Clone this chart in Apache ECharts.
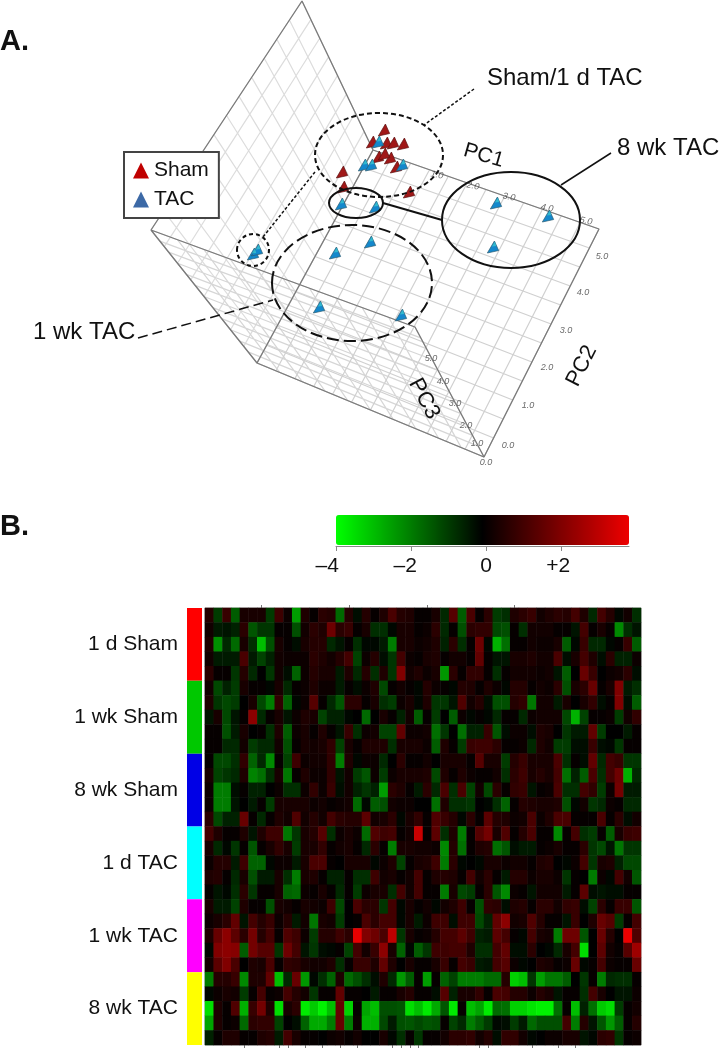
<!DOCTYPE html>
<html>
<head>
<meta charset="utf-8">
<style>
  html, body { margin: 0; padding: 0; background: #fff; }
  /* the source figure is a soft upscaled scan */
  #main { width: 722px; height: 1050px; filter: blur(0.6px); }
</style>
<script src="https://cdn.jsdelivr.net/npm/echarts@6/dist/echarts.min.js"></script>
</head>
<body>
<div id="main"></div>
<script>
const shamX = [384, 372, 386, 393, 403, 390, 378, 384, 396, 409, 342, 343]
const shamY = [130, 142, 143, 143, 144, 158, 157, 154, 167, 192, 172, 187]
const tacX = [378, 364, 371, 402, 375, 341, 496, 548, 493, 370, 253, 257, 335, 319, 401]
const tacY = [142, 165, 165, 165, 207, 204, 203, 216, 247, 242, 254, 250, 253, 307, 315]

const pc1Ticks = ['1.0', '2.0', '3.0', '4.0', '5.0']
const pc2Ticks = ['0.0', '1.0', '2.0', '3.0', '4.0', '5.0']
const pc3Ticks = ['0.0', '1.0', '2.0', '3.0', '4.0', '5.0']

// Panel B
const groupNames = ['1 d Sham', '1 wk Sham', '8 wk Sham', '1 d TAC', '1 wk TAC', '8 wk TAC']
const colorTicks = [-4, -2, 0, 2]
const colorMin = -4
const colorMax = 3.81

const oneDayShamRows = [
  [.5,-1,.8,-1.5,.3,.3,.3,-1,.9,.1,-2.5,.4,0,.6,.5,-1.7,.5,-.3,.5,0,.4,1.1,.5,.4,0,0,.3,-.7,1.3,-1.5,1.1,0,.6,-1,-.8,.4,.6,.8,.2,.4,.6,.5,1,.4,-.7,1,.5,-.2,.2,-.8],
  [.2,-.5,-.4,-.6,.6,-1.4,-.9,-.9,0,0,-1.3,.2,.6,.4,1.7,.6,.8,0,.3,-.8,-.8,-.2,.3,.3,0,.1,.6,-.7,0,-1.3,.6,.7,.7,-1.2,-1.3,0,-.8,.2,.2,.2,0,0,-.4,1,0,.3,0,-2.2,-.8,-.4],
  [.4,-2.3,-.7,-1.7,.3,-.8,-3,-1.3,.3,0,-.3,.3,.5,.5,-.7,-.4,0,-.8,-.2,-.2,-.5,-2,.3,.3,.1,.2,.4,-.6,.6,-.8,0,1.7,-.2,-2.8,-1.8,0,0,.2,.1,.1,.3,-1.5,-.2,.8,-.7,-.7,-.2,0,.8,-1.5],
  [.2,-.5,-.5,-.5,1.1,-.5,-1.1,-.6,.2,.1,.1,.1,.6,.4,.2,.5,1,-1.1,.1,.5,-.3,-.9,1,.1,0,.3,.4,0,.2,.2,0,1.5,0,-.4,-.4,.3,.3,.4,.2,.2,1.1,-.3,.3,1,.4,-.3,.6,-.6,-.6,.1],
  [.6,0,0,-.9,.5,-.7,-.1,-.9,.2,-.3,-1.6,.1,.5,.3,.3,-.5,.4,-.7,.5,-.8,.4,-.9,2,.2,.4,.1,.3,-2.4,.6,0,.7,.7,0,-.8,0,.2,.2,.2,.1,.2,-.4,-1.5,-.1,1.6,.8,-.1,.1,.2,.6,-.3]
]
const oneWeekShamRows = [
  [.2,-1.2,-.6,-1,.3,0,0,-.2,.3,-.7,0,.1,.4,.1,.1,-.5,0,-.3,.1,.4,-1.2,0,.2,0,-.2,.5,.1,0,-.2,.5,.4,0,.4,.1,-.2,.5,.5,0,.2,.1,.6,-1.3,.3,.6,1.6,0,.3,2,-.5,-.8],
  [.4,-.9,-1.2,-1,-.1,.3,-1.2,-2,.7,-1.6,-.2,.1,1.3,0,-.7,-1.4,.6,.6,0,.3,-.8,-1,.1,.3,-.2,.4,-.9,-.9,-.4,1.2,.2,.5,-.3,-1.3,-1.3,.5,.7,-1.9,.2,.2,-.5,.3,-.1,.3,.7,-.3,0,2,-.3,-1.5],
  [-.4,.3,-1.2,-.4,0,2.2,-.7,0,.3,-.4,.1,.4,.3,-1.1,-.6,-.6,-.2,-.1,-1.7,-.1,.3,0,-.6,.2,-1.5,0,-1,-.1,-1.5,.1,-.2,0,-.2,-.7,0,0,-.7,.1,.2,.2,.2,-1.2,-2.8,-1.1,0,0,.1,-1,.2,.7],
  [0,0,-1.3,-.5,.3,-.1,0,-.8,.4,-1.5,.1,.3,0,.4,0,-.4,.8,-.8,.1,.2,-1.1,-1.1,1.5,.1,.1,.2,-1.8,-.9,-.1,-1.8,-.6,-.6,.8,-1.4,-.3,.1,.1,-.3,.4,.3,-.1,-.9,-.5,-.5,1.5,-1,-.1,-.1,-.5,0],
  [0,0,-.7,-.7,.2,-1,-.7,-.7,.2,-1.3,0,.3,.2,.3,.7,-1.1,.3,0,.4,.4,.4,-.8,.3,.3,.3,.1,-1.5,.4,0,-1,.8,.9,.9,.6,0,0,.1,-.7,.4,.2,-1,-1,-.3,-.3,.8,-.3,-.2,-.9,0,0]
]
const eightWeekShamRows = [
  [0,-1.2,-1.2,-.8,.7,-1.6,-.7,-2.2,0,-1.1,.9,.1,.2,.2,.7,-2,.4,-.2,.1,.1,-.7,-.1,.6,0,0,.2,-.1,.3,.3,.3,0,1.3,.3,.3,-1,.5,.8,.3,.3,.3,1.1,-.8,0,-.3,1.5,-.7,1,.8,-.9,-.9],
  [.3,-1.1,-.9,-.7,.4,-2.1,-1.8,-.8,.3,-1.9,0,.4,.1,.1,.7,-.4,.2,-1,-1.4,.1,-1,.1,.3,.3,.3,.4,-1.2,.4,0,.4,.1,0,0,.2,-.8,.6,.9,.3,.5,.3,1,-1.8,-.6,-1.5,1.1,-.8,1,1.7,-2.8,-.7],
  [.1,-2,-2,-.3,0,-.6,-.6,-.1,.1,-.8,-.8,.1,.7,.1,.8,-.3,.2,-.6,-.9,-.6,-2.5,.6,.4,0,-.5,.6,-.7,1.1,-.8,1.1,-1.1,.2,-1.2,.6,0,.7,.8,-.4,0,.1,1.1,-.8,-.8,1,.7,-1,.1,1.8,-.5,-.5],
  [.1,-2,-2,-.4,-.1,-.5,0,-1,.3,.3,.3,.3,.1,.2,0,.1,.2,-1.7,-.2,-1.5,-1.3,.2,.1,.1,-.1,-.1,-1.8,.4,-.8,-.8,-.9,-.1,-.2,-.8,-1.6,0,.5,.4,.3,.3,.4,-1.3,-.2,.2,-.9,-.7,.1,0,-.7,-.7],
  [.6,-1.2,-.6,-.6,1.6,0,-.7,0,.4,.2,1.2,.2,.5,.2,1,.6,.5,.5,1.4,.2,.3,.6,-.2,.3,.7,0,1.2,.8,.5,-.2,.6,0,1.4,.5,.4,.1,.2,1.1,.1,.4,1.1,1.1,0,0,0,1.1,0,.6,-.3,.2]
]
const oneDayTacRows = [
  [1,.4,0,0,.4,-.4,.4,.9,.9,-1.9,-.9,.3,.5,1.3,-.8,.1,.3,.1,-1.7,1.2,.9,1,0,.2,3.2,0,1.4,-.8,.4,-2,0,1.3,1.8,.3,1.2,0,.5,1.1,0,0,-2.2,0,1,-.8,-1,0,-1.5,.3,.8,.9],
  [.3,-.7,-.2,-.9,0,-1.4,0,.3,.7,.3,-1,.3,.3,.7,0,.2,.3,0,-.7,.6,0,-2,.3,.3,.2,.2,.1,-2.2,.5,-1.8,0,.4,.5,-1.8,-1.4,-.3,-.5,-.5,0,.1,.3,0,0,.6,-.9,-1.2,-.4,-1.9,-.9,-.9],
  [.1,.5,.5,-.5,.9,-1.6,-1.6,-.2,.1,.1,-.5,.3,1.1,1.1,0,-.1,.3,.3,.3,-.2,.1,.4,-1.1,0,.3,.4,.9,-2,.6,-.2,-.1,-.2,.3,.3,.1,.2,.2,0,.4,.5,-.1,-.2,.1,1,-.9,.3,.4,-.6,-1.2,-1.2],
  [.4,.5,0,-.7,.3,-1.3,-.5,-.5,.3,-.8,-2,.3,.4,0,-.6,-.6,0,-.8,-.8,.9,.2,.3,0,.2,1,0,.4,.5,.4,0,1,.2,.6,0,-.5,.5,.5,.1,.3,.3,.1,-.9,0,-.1,-2,.1,-.2,1,.2,-1.4],
  [0,-.4,-.2,-.8,.6,-.9,0,0,.3,-1.6,-1.7,.1,0,.3,0,-.7,0,-1,.1,.3,.3,-.8,1,.2,1,0,0,-2,.3,-1.2,-1,0,.6,-1.4,-2.2,.1,0,-.4,.2,.2,.2,-.5,0,1.4,-.3,-.4,-.3,-.3,0,0]
]
const oneWeekTacRows = [
  [.3,-.5,-.5,-1.1,.4,0,0,-1.3,.3,.2,0,.3,.2,.1,.9,-1.2,-.1,1.1,.6,.6,-.9,1,-.2,.3,0,.2,-.2,.2,.4,.9,0,-1.3,.7,.6,-.3,.4,.5,0,.6,.6,.2,.7,.8,-.3,-1.1,.6,0,.8,.8,-1.4],
  [.1,.3,.6,1.5,-.4,1,.5,.8,.1,.5,-.5,.2,-1.9,.3,.2,-1,-.1,0,1.1,.6,1,1,-.2,.3,-.5,.1,.9,.9,-.3,.9,.9,-1.2,-.6,1.5,2.2,.2,.3,1.2,.5,0,0,-.4,.8,-.1,.4,1.6,1.3,-1,0,1],
  [.4,1.6,2.2,1.4,.6,1.8,.5,1,0,1.2,.9,.1,-1,.5,.5,.9,.6,3.7,2,1.7,1.1,3,-.9,.3,0,.1,.5,1,1,1.4,.9,-.6,-.5,1.4,1,0,-.2,1,.3,.2,-2,1.7,1.7,-1.4,-.1,1.6,.5,-.1,3.8,1.2],
  [-.2,2,2.2,2.1,-1.5,1.8,1.3,1.3,-.9,1.7,1,-.4,-.9,-.3,-.2,0,-1.1,1,.2,.8,2.2,.3,-1.6,-.2,-1.5,-.9,.9,.9,1,1,.4,-.8,-.8,1,1.5,-.3,-.3,.6,-.1,-.2,-.7,.3,1,-3.5,-.1,1.4,.2,0,1.3,2.5],
  [.2,1.4,2,1.1,-.1,.4,.3,1.1,0,.7,.6,.3,.2,.2,.4,-.8,0,.8,.8,.4,1.5,.4,-.1,.3,0,0,.3,.8,0,1,.8,-.5,-.4,1,1.3,.1,-.2,-.1,.4,.3,0,.1,1.6,-.2,0,1,.1,0,0,1.6]
]
const eightWeekTacRows = [
  [-2,.5,.5,.8,-2.2,.4,.4,1.5,-3,-.7,1.6,-2.4,-.2,-.8,-1.6,.4,-1.7,-1.3,-.8,-.3,.4,-.7,-2.4,-1.5,0,-2.5,0,-1.6,-1.1,-2,-2,-2,-1.7,-1.7,.5,-3.3,-3,-.9,-2.5,-1.9,-1.9,-1.5,-.1,-.9,0,-2,-.7,-.8,-.8,0],
  [-.2,.1,.3,.2,-1,0,1,0,.1,1,.5,.2,-.9,0,0,1.5,0,0,-.1,-.5,0,0,.3,.5,0,0,-.3,1.3,-.6,.3,.3,.7,0,1.1,1,.5,.5,.1,.5,.3,-.4,0,0,-.8,1,.3,-.1,-.4,-.4,.1],
  [-3.5,.4,0,1.2,-2.8,.8,1.8,.4,-3.5,.3,.6,-3.7,-3.2,-3.8,-3,1.6,-3.3,0,-2.6,-3,-1.3,-1.3,-1.4,-3.5,-3,-3.7,-2.7,-1.4,-3.7,0,-3,-2.6,-3.7,-1.7,-1.8,-3.3,-3.3,-3.6,-3.8,-3.8,-1.8,0,-3,-.6,-1.8,-3.2,-3.5,-1,0,.2],
  [-2.6,.4,0,.1,-1.7,.6,.7,.7,-1.1,-.1,-.3,-1.6,-2.7,-2.7,-2,1.6,-2,.1,-2.8,-2.8,-1.2,-.5,-1.3,-1.4,-1.2,-1.4,-1.3,0,-1.1,-.7,-2,-1.5,-1,-.2,-.3,-1,-.5,-1.7,-1.3,-1.3,-1.3,1,-2,.5,-.4,-1.4,-2.4,-1.5,0,.5],
  [-.6,0,.4,.4,0,0,.4,.5,-.5,1,.3,0,0,-.1,.1,.2,0,.2,-.1,-.1,.3,-.2,-.8,0,-.9,0,0,.2,.6,.6,.7,.2,.5,-.3,.7,.7,.2,-.2,-.1,.1,.1,.3,.3,-.4,-.2,.6,.7,-.9,0,.1]
]
const heatmapRows = [].concat(oneDayShamRows, oneWeekShamRows, eightWeekShamRows, oneDayTacRows, oneWeekTacRows, eightWeekTacRows)

const topTickCols = [6, 16, 25, 35]
const bottomTickCols = [4, 8, 9, 11, 13, 15, 17, 21, 22, 23, 24, 31, 32, 37, 40, 42]

const FONT = '"Liberation Sans", Arial, sans-serif'
const groupColors = ['#ff0000', '#00c800', '#0000e6', '#00ffff', '#ff00ff', '#ffff00']

// leaning cone as the PCA plot draws it, tip up and to the right
const CONE = 'path://M20,0 L0,34 L32,27 Z'
const CONE_TOP = 'path://M10,0 L0,16 L14,14 Z'

// corners of the three walls of the PCA box, as seen in the picture
const floorWall = [[373, 150], [599, 229], [484, 457], [257, 363]]
const backWall = [[415, 327], [484, 457], [257, 363], [151, 230]]
const sideWall = [[302, 1], [373, 150], [257, 363], [151, 230]]

const lerp = (a, b, t) => [a[0] + (b[0] - a[0]) * t, a[1] + (b[1] - a[1]) * t]

// wall mesh, one line with gaps
function wallMesh (c, cellsU, cellsV) {
  const out = []
  for (let i = 0; i <= cellsU; i++) {
    const t = i / cellsU
    out.push(lerp(c[0], c[1], t), lerp(c[3], c[2], t), '-')
  }
  for (let i = 0; i <= cellsV; i++) {
    const t = i / cellsV
    out.push(lerp(c[0], c[3], t), lerp(c[1], c[2], t), '-')
  }
  return out
}

function meshSeries (c, cellsU, cellsV, color, name) {
  return {
    type: 'line',
    name: name,
    xAxisIndex: 0,
    yAxisIndex: 0,
    data: wallMesh(c, cellsU, cellsV),
    showSymbol: false,
    connectNulls: false,
    silent: true,
    lineStyle: { color: color, width: 1.2 },
    z: 1
  }
}

function edgeSeries (points) {
  return {
    type: 'line',
    xAxisIndex: 0,
    yAxisIndex: 0,
    data: points,
    showSymbol: false,
    silent: true,
    lineStyle: { color: '#7a7a7a', width: 1.3 },
    z: 2
  }
}

function tickSeries (labels, xs, ys, rotate) {
  return {
    type: 'scatter',
    xAxisIndex: 0,
    yAxisIndex: 0,
    symbolSize: 0,
    silent: true,
    data: labels.map((l, i) => ({ value: [xs[i], ys[i]], name: l })),
    label: {
      show: true,
      position: 'inside',
      formatter: p => p.name,
      rotate: rotate,
      fontFamily: FONT,
      fontStyle: 'italic',
      fontSize: 9,
      color: '#444'
    },
    z: 4
  }
}

function pointSeries (name, xs, ys, color, edge) {
  return {
    type: 'scatter',
    name: name,
    xAxisIndex: 0,
    yAxisIndex: 0,
    symbol: CONE,
    symbolSize: 12,
    symbolKeepAspect: true,
    data: xs.map((x, i) => [x, ys[i]]),
    itemStyle: { color: color, borderColor: edge, borderWidth: 0.7, opacity: 1 },
    z: 6
  }
}

const heatmapCells = []
heatmapRows.forEach((row, r) => {
  row.forEach((v, c) => heatmapCells.push([c, r, v]))
})

const heatmapColumns = heatmapRows[0].map((_, i) => String(i))
const heatmapRowIds = heatmapRows.map((_, i) => String(i))

const chart = echarts.init(document.getElementById('main'), null, { renderer: 'canvas' })

function ring (cx, cy, rx, ry, dash, width) {
  return {
    type: 'ellipse',
    shape: { cx: cx, cy: cy, rx: rx, ry: ry },
    style: { fill: 'none', stroke: '#111', lineWidth: width, lineDash: dash },
    z: 20
  }
}

function leader (x1, y1, x2, y2, dash, width) {
  return {
    type: 'line',
    shape: { x1: x1, y1: y1, x2: x2, y2: y2 },
    style: { stroke: '#111', lineWidth: width, lineDash: dash },
    z: 20
  }
}

function caption (text, x, y, size, opts) {
  const o = opts || {}
  return {
    type: 'text',
    x: x,
    y: y,
    rotation: o.rotation || 0,
    style: {
      text: text,
      fontFamily: FONT,
      fontSize: size,
      fontWeight: o.bold ? 'bold' : 'normal',
      fill: '#111',
      align: o.align || 'left',
      verticalAlign: 'middle'
    },
    z: 21
  }
}

// the reference prints a wide dash and sets its labels a little left of the ticks
function colorTickLabel (v) {
  if (v === -4) return '\u2013' + '4\u00a0\u00a0\u00a0'
  if (v === -2) return '\u2013' + '2\u00a0\u00a0'
  if (v === 2) return '+2\u00a0'
  return String(v)
}

chart.setOption({
  animation: false,
  backgroundColor: '#fff',
  textStyle: { fontFamily: FONT },
  grid: [
    { left: 0, top: 0, width: 722, height: 470 },
    { left: 205, top: 608, width: 436, height: 437, show: true, borderColor: '#9a9a9a', borderWidth: 1, backgroundColor: 'transparent' },
    { left: 187, top: 608, width: 15, height: 437 },
    { left: 336, top: 545, width: 293, height: 1 }
  ],
  xAxis: [
    { gridIndex: 0, type: 'value', min: 0, max: 722, show: false },
    {
      gridIndex: 1,
      type: 'category',
      position: 'top',
      data: heatmapColumns,
      axisLine: { show: false },
      axisLabel: { show: false },
      axisTick: { show: true, alignWithLabel: true, length: 3, interval: i => topTickCols.includes(i), lineStyle: { color: '#777' } }
    },
    {
      gridIndex: 1,
      type: 'category',
      position: 'bottom',
      data: heatmapColumns,
      axisLine: { show: false },
      axisLabel: { show: false },
      axisTick: { show: true, alignWithLabel: true, length: 3, interval: i => bottomTickCols.includes(i), lineStyle: { color: '#777' } }
    },
    { gridIndex: 2, type: 'value', min: 0, max: 1, show: false },
    {
      gridIndex: 3,
      type: 'value',
      min: colorMin,
      max: colorMax,
      position: 'bottom',
      splitLine: { show: false },
      axisLine: { show: true, lineStyle: { color: '#888', width: 1 } },
      axisTick: { show: true, length: 5, customValues: colorTicks, lineStyle: { color: '#888' } },
      axisLabel: {
        customValues: colorTicks,
        margin: 10,
        fontFamily: FONT,
        fontSize: 21,
        color: '#111',
        formatter: colorTickLabel
      }
    }
  ],
  yAxis: [
    { gridIndex: 0, type: 'value', min: 0, max: 470, inverse: true, show: false },
    { gridIndex: 1, type: 'category', inverse: true, data: heatmapRowIds, show: false },
    {
      gridIndex: 2,
      type: 'category',
      inverse: true,
      data: groupNames,
      axisLine: { show: false },
      axisTick: { show: false },
      axisLabel: { margin: 9, fontFamily: FONT, fontSize: 21, color: '#111' }
    },
    { gridIndex: 3, type: 'value', min: 0, max: 1, show: false }
  ],
  legend: {
    left: 124,
    top: 152,
    orient: 'vertical',
    selectedMode: false,
    backgroundColor: '#fff',
    borderColor: '#444',
    borderWidth: 2,
    padding: [8, 10, 8, 9],
    itemGap: 8,
    itemWidth: 16,
    itemHeight: 16,
    textStyle: { fontFamily: FONT, fontSize: 21, color: '#111' },
    data: [
      { name: 'Sham', icon: 'triangle', itemStyle: { color: '#c00000', borderWidth: 0 } },
      { name: 'TAC', icon: 'triangle', itemStyle: { color: '#3c69a6', borderWidth: 0 } }
    ],
    z: 15
  },
  visualMap: {
    type: 'continuous',
    seriesIndex: 0,
    min: colorMin,
    max: colorMax,
    orient: 'horizontal',
    left: 336,
    top: 515,
    itemWidth: 30,
    itemHeight: 293,
    padding: 0,
    text: ['', ''],
    showLabel: false,
    calculable: false,
    hoverLink: false,
    realtime: false,
    inRange: { color: ['#00ff00', '#000000', '#ee0000'] }
  },
  series: [
    {
      type: 'heatmap',
      xAxisIndex: 1,
      yAxisIndex: 1,
      data: heatmapCells,
      silent: true,
      progressive: 0,
      emphasis: { disabled: true }
    },
    {
      type: 'bar',
      xAxisIndex: 3,
      yAxisIndex: 2,
      barWidth: '100%',
      silent: true,
      data: groupNames.map((_, i) => ({ value: 1, itemStyle: { color: groupColors[i] } }))
    },
    meshSeries(sideWall, 8, 12, '#dcdcdc', 'side wall'),
    meshSeries(backWall, 12, 10, '#d6d6d6', 'back wall'),
    meshSeries(floorWall, 12, 12, '#d0d0d0', 'floor'),
    edgeSeries([sideWall[3], sideWall[0], sideWall[1], floorWall[1], floorWall[2], floorWall[3], sideWall[1]]),
    edgeSeries([floorWall[3], sideWall[3], backWall[0], floorWall[2]]),
    tickSeries(pc1Ticks, [437, 473, 509, 547, 586], [175, 186, 197, 208, 221], -12),
    tickSeries(pc2Ticks, [508, 528, 547, 566, 583, 602], [445, 405, 367, 330, 292, 256], 0),
    tickSeries(pc3Ticks, [486, 477, 466, 455, 443, 431], [462, 443, 425, 403, 381, 358], 0),
    pointSeries('Sham', shamX, shamY, '#a01818', '#5a1010'),
    pointSeries('TAC', tacX, tacY, '#1488cc', '#2a5a70'),
    {
      type: 'scatter',
      name: 'TAC highlight',
      xAxisIndex: 0,
      yAxisIndex: 0,
      symbol: CONE_TOP,
      symbolSize: 5,
      symbolOffset: [1, -3],
      symbolKeepAspect: true,
      silent: true,
      data: tacX.map((x, i) => [x, tacY[i]]),
      itemStyle: { color: '#38c6cf' },
      z: 7
    }
  ],
  graphic: [
    ring(379, 155, 64, 42, [5, 3], 2),
    ring(356, 203, 27, 15, null, 2),
    ring(253, 250, 16, 16, [4, 3], 2),
    ring(352, 283, 80, 58, [12, 5], 2),
    ring(511, 220, 69, 48, null, 2),
    leader(474, 89, 424, 125, [3, 2], 1.5),
    leader(315, 172, 263, 237, [3, 2], 1.5),
    leader(611, 153, 561, 185, null, 1.5),
    leader(383, 203, 442, 220, null, 2),
    leader(138, 338, 273, 300, [10, 5], 1.5),
    caption('A.', 0, 42, 29, { bold: true }),
    caption('B.', 0, 527, 29, { bold: true }),
    caption('Sham/1 d TAC', 487, 78, 24),
    caption('8 wk TAC', 617, 148, 24),
    caption('1 wk TAC', 33, 332, 24),
    caption('PC1', 464, 150, 21, { rotation: -0.28 }),
    caption('PC3', 414, 380, 22, { rotation: -1.08 }),
    caption('PC2', 572, 385, 22, { rotation: 1.1 })
  ]
})
</script>
</body>
</html>
